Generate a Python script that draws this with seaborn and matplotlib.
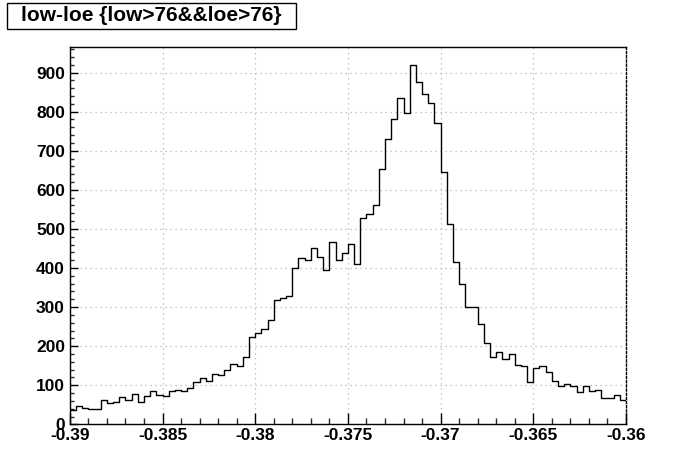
import matplotlib
matplotlib.use("Agg")
import matplotlib.pyplot as plt
import seaborn as sns
import numpy as np
import pandas as pd
from matplotlib.patches import Rectangle
from matplotlib.ticker import MultipleLocator, FixedLocator, FixedFormatter

# histogram contents, 90 equal bins between x_min and x_max
x_min, x_max = -0.39, -0.36
counts = [37, 48, 43, 38, 38, 62, 54, 58, 69, 63,
          77, 58, 72, 84, 75, 72, 85, 89, 85, 92,
          108, 118, 111, 129, 125, 138, 154, 150, 172, 224,
          233, 245, 268, 319, 324, 329, 401, 426, 421, 451,
          429, 396, 467, 421, 439, 462, 409, 529, 539, 560,
          653, 730, 782, 836, 797, 920, 875, 845, 823, 772,
          645, 513, 415, 358, 299, 299, 256, 209, 173, 184,
          168, 181, 153, 148, 109, 145, 148, 133, 112, 99,
          104, 99, 82, 97, 85, 89, 68, 68, 76, 62]
x_ticks = [-0.39, -0.385, -0.38, -0.375, -0.37, -0.365, -0.36]
x_tick_labels = ["-0.39", "-0.385", "-0.38", "-0.375", "-0.37", "-0.365", "-0.36"]
y_ticks = [0, 100, 200, 300, 400, 500, 600, 700, 800, 900]
y_tick_labels = [str(v) for v in y_ticks]
title = "low-loe {low>76&&loe>76}"

sns.set_theme(style="white")
plt.rcParams["font.family"] = ["Liberation Sans", "DejaVu Sans"]
plt.rcParams["font.weight"] = "bold"

edges = np.linspace(x_min, x_max, len(counts) + 1)
df = pd.DataFrame({"x": (edges[:-1] + edges[1:]) / 2, "n": counts})

fig = plt.figure(figsize=(6.96, 4.72), dpi=100)
fig.patch.set_facecolor("white")
ax = fig.add_axes([0.1003, 0.101, 0.7991, 0.8])

ax.grid(True, which="major", color="#b4b4b4", linestyle=(0, (1, 3)), linewidth=0.9)
ax.set_axisbelow(True)

sns.histplot(data=df, x="x", weights="n", bins=len(counts), binrange=(x_min, x_max),
             element="step", fill=False, color="black", linewidth=1.0, ax=ax)

ax.set_xlim(x_min, x_max)
ax.set_ylim(0, 1.05 * max(counts))
ax.set_xlabel("")
ax.set_ylabel("")

ax.xaxis.set_major_locator(FixedLocator(x_ticks))
ax.xaxis.set_major_formatter(FixedFormatter(x_tick_labels))
ax.xaxis.set_minor_locator(MultipleLocator(0.001))
ax.yaxis.set_major_locator(FixedLocator(y_ticks))
ax.yaxis.set_major_formatter(FixedFormatter(y_tick_labels))
ax.yaxis.set_minor_locator(MultipleLocator(20))

ax.tick_params(axis="x", which="major", direction="in", length=8, width=1,
               pad=3, labelsize=12.5, colors="black", bottom=True, top=False)
ax.tick_params(axis="x", which="minor", direction="in", length=4, width=1,
               bottom=True, top=False)
ax.tick_params(axis="y", which="major", direction="in", length=6, width=1,
               pad=3.5, labelsize=12.5, colors="black", left=True, right=False)
ax.tick_params(axis="y", which="minor", direction="in", length=3, width=1,
               left=True, right=False)

for side in ["left", "bottom", "top", "right"]:
    ax.spines[side].set_visible(True)
    ax.spines[side].set_color("black")
    ax.spines[side].set_linewidth(1.0)
ax.spines["right"].set_linestyle((0, (1.5, 1.5)))

# title box in the top-left corner
fig.patches.append(Rectangle((0.0096, 0.9392), 0.4157, 0.0551, transform=fig.transFigure,
                             facecolor="white", edgecolor="black", linewidth=1.0))
fig.text(0.2174, 0.9667, title, ha="center", va="center", fontsize=15,
         fontweight="bold", color="black")

fig.savefig("out.png", dpi=100)
